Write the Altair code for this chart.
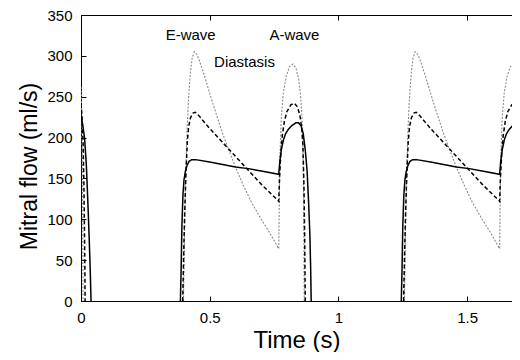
import altair as alt
import pandas as pd

# ---- data: time (s) and mitral flow (ml/s) ----
# each curve is split into beats (valve closed in between, no flow drawn)
solid_t = [
    [0, 0.007, 0.014, 0.021, 0.027, 0.032, 0.036, 0.039],
    [0.386, 0.389, 0.392, 0.396, 0.400, 0.405, 0.412, 0.420, 0.430, 0.445,
     0.50, 0.55, 0.60, 0.65, 0.70, 0.768, 0.772, 0.778, 0.786, 0.795, 0.805,
     0.82, 0.835, 0.845, 0.855, 0.863, 0.871, 0.878, 0.884, 0.889, 0.892, 0.894],
    [1.244, 1.247, 1.250, 1.254, 1.258, 1.263, 1.270, 1.278, 1.288, 1.303,
     1.358, 1.408, 1.458, 1.508, 1.558, 1.626, 1.630, 1.636, 1.644, 1.653, 1.663,
     1.678, 1.693, 1.703, 1.713, 1.721],
]
solid_v = [
    [228, 215, 199, 165, 118, 75, 36, 0],
    [0, 40, 93, 130, 148, 158, 166, 171, 173, 173,
     170, 167, 164, 162, 159, 155, 170, 185, 197, 205, 210,
     215, 218, 218, 214, 205, 185, 160, 121, 80, 40, 0],
    [0, 40, 93, 130, 148, 158, 166, 171, 173, 173,
     170, 167, 164, 162, 159, 155, 170, 185, 197, 205, 210,
     215, 218, 218, 214, 205],
]

dashed_t = [
    [0, 0.004, 0.008, 0.011, 0.013, 0.015, 0.016],
    [0.395, 0.399, 0.403, 0.408, 0.413, 0.418, 0.425, 0.435, 0.444, 0.46,
     0.50, 0.55, 0.60, 0.65, 0.70, 0.768, 0.771, 0.776, 0.782, 0.79, 0.80,
     0.815, 0.828, 0.84, 0.85, 0.857, 0.862, 0.866, 0.869, 0.871],
    [1.253, 1.257, 1.261, 1.266, 1.271, 1.276, 1.283, 1.293, 1.302, 1.318,
     1.358, 1.408, 1.458, 1.508, 1.558, 1.626, 1.629, 1.634, 1.640, 1.648, 1.658,
     1.673, 1.686, 1.698, 1.708, 1.715, 1.720],
]
dashed_v = [
    [242, 225, 195, 150, 100, 40, 0],
    [0, 60, 110, 160, 195, 213, 224, 230, 231, 226,
     211, 194, 177, 160, 143, 122, 150, 180, 203, 220, 232,
     240, 242, 238, 228, 212, 190, 140, 70, 0],
    [0, 60, 110, 160, 195, 213, 224, 230, 231, 226,
     211, 194, 177, 160, 143, 122, 150, 180, 203, 220, 232,
     240, 242, 238, 228, 212, 190],
]

dotted_t = [
    [0, 0.002, 0.004, 0.006, 0.007, 0.008],
    [0.398, 0.401, 0.404, 0.408, 0.412, 0.418, 0.425, 0.432, 0.44, 0.45, 0.46,
     0.48, 0.50, 0.52, 0.55, 0.58, 0.60, 0.63, 0.66, 0.70, 0.73, 0.768,
     0.770, 0.773, 0.778, 0.786, 0.797, 0.81, 0.823, 0.835, 0.845, 0.852,
     0.858, 0.862, 0.865, 0.867],
    [1.256, 1.259, 1.262, 1.266, 1.270, 1.276, 1.283, 1.290, 1.298, 1.308, 1.318,
     1.338, 1.358, 1.378, 1.408, 1.438, 1.458, 1.488, 1.518, 1.558, 1.588, 1.626,
     1.628, 1.631, 1.636, 1.644, 1.655, 1.668, 1.681, 1.693, 1.703, 1.710,
     1.716, 1.720],
]
dotted_v = [
    [262, 240, 200, 140, 80, 0],
    [0, 60, 120, 170, 210, 250, 280, 298, 305, 302, 294,
     275, 254, 234, 205, 180, 164, 142, 122, 100, 85, 64,
     120, 180, 225, 255, 275, 287, 290, 285, 272, 255,
     228, 190, 120, 0],
    [0, 60, 120, 170, 210, 250, 280, 298, 305, 302, 294,
     275, 254, 234, 205, 180, 164, 142, 122, 100, 85, 64,
     120, 180, 225, 255, 275, 287, 290, 285, 272, 255,
     228, 190],
]

x_ticks = [0, 0.5, 1, 1.5]
y_ticks = [0, 50, 100, 150, 200, 250, 300, 350]
x_domain = [0, 1.674]
y_domain = [0, 350]

ann_text = ["E-wave", "A-wave", "Diastasis"]
ann_t = [0.426, 0.829, 0.635]
ann_v = [326, 326, 293]

FONT = "Liberation Sans"


def to_df(ts, vs):
    rows = []
    for k, (tt, vv) in enumerate(zip(ts, vs)):
        for a, b in zip(tt, vv):
            rows.append({"t": a, "v": b, "seg": k})
    return pd.DataFrame(rows)


solid_df = to_df(solid_t, solid_v)
dashed_df = to_df(dashed_t, dashed_v)
dotted_df = to_df(dotted_t, dotted_v)
ann_df = pd.DataFrame({"t": ann_t, "v": ann_v, "label": ann_text})

xs = alt.Scale(domain=x_domain, nice=False, zero=False)
ys = alt.Scale(domain=y_domain, nice=False)

label_x = alt.Axis(orient="bottom", values=x_ticks, format="~g", ticks=False, domain=True,
                   domainColor="black", domainWidth=1, grid=False, labelPadding=9,
                   labelFlush=False, labelFontSize=15, labelFont=FONT, labelColor="black",
                   title="Time (s)", titleFontSize=24, titleFont=FONT,
                   titleFontWeight="normal", titleColor="black", titleBaseline="alphabetic",
                   titleY=46)
label_y = alt.Axis(orient="left", values=y_ticks, ticks=False, domain=True,
                   domainColor="black", domainWidth=1, grid=False, labelFlush=False,
                   labelPadding=9, labelFontSize=15, labelFont=FONT, labelColor="black",
                   title="Mitral flow (ml/s)", titleFontSize=23, titleFont=FONT,
                   titleFontWeight="normal", titleColor="black", titleAngle=270,
                   titleAlign="center", titleBaseline="alphabetic", titleX=-45, titleY=151)
top_frame = alt.Axis(orient="top", values=x_ticks, labels=False, ticks=True, domain=True,
                     domainColor="black", domainWidth=1, tickSize=0, grid=False, title=None)


def tick_axis(orient, values):
    return alt.Axis(orient=orient, values=values, labels=False, domain=False, grid=False,
                    ticks=True, tickSize=5, tickColor="black", tickWidth=1, offset=-5,
                    title=None)


dotted = alt.Chart(dotted_df).mark_line(color="#8a8a8a", strokeWidth=1.1,
                                        strokeDash=[2, 1.5], clip=True).encode(
    x=alt.X("t:Q", scale=xs, axis=label_x),
    y=alt.Y("v:Q", scale=ys, axis=label_y),
    detail="seg:N",
)
dashed = alt.Chart(dashed_df).mark_line(color="black", strokeWidth=1.5,
                                        strokeDash=[4, 2.5], clip=True).encode(
    x=alt.X("t:Q", scale=xs, axis=tick_axis("bottom", x_ticks)),
    y=alt.Y("v:Q", scale=ys, axis=tick_axis("left", y_ticks)),
    detail="seg:N",
)
solid = alt.Chart(solid_df).mark_line(color="black", strokeWidth=1.5, clip=True).encode(
    x=alt.X("t:Q", scale=xs, axis=tick_axis("top", x_ticks)),
    y=alt.Y("v:Q", scale=ys, axis=None),
    detail="seg:N",
)
labels = alt.Chart(ann_df).mark_text(font=FONT, fontSize=15, color="black",
                                     align="center", baseline="middle").encode(
    x=alt.X("t:Q", scale=xs, axis=top_frame),
    y=alt.Y("v:Q", scale=ys, axis=None),
    text="label:N",
)

chart = alt.layer(dotted, dashed, solid, labels).resolve_axis(
    x="independent", y="independent"
).properties(
    width=431, height=286,
    autosize=alt.AutoSizeParams(type="none"),
    padding={"left": 73, "top": 7, "right": 0, "bottom": 51},
).configure_view(stroke=None).configure(background="white")

chart.save("out.html", embed_options={"renderer": "svg", "actions": False})
